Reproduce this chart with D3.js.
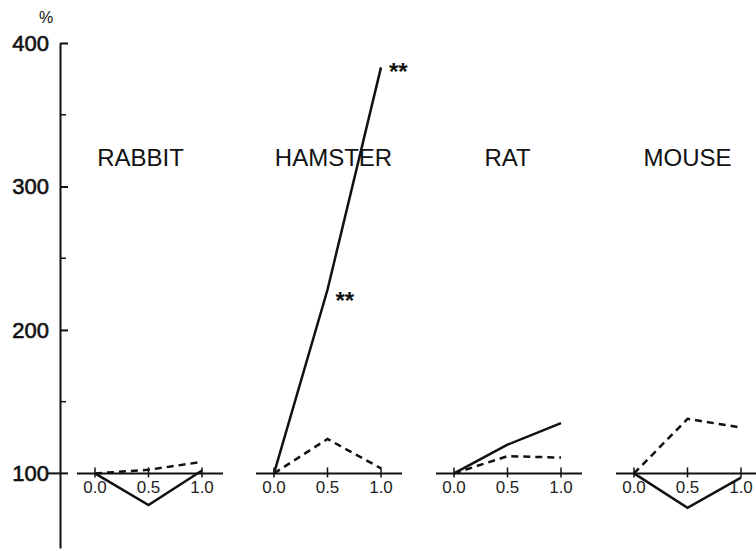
<!DOCTYPE html>
<html>
<head>
<meta charset="utf-8">
<script src="https://cdn.jsdelivr.net/npm/d3@7"></script>
<style>
  body { margin: 0; background: #fff; }
  svg { font-family: "Liberation Sans", Arial, sans-serif; }
</style>
</head>
<body>
<script>
// data
const species = ["RABBIT", "HAMSTER", "RAT", "MOUSE"];
const doses = [0.0, 0.5, 1.0];
const doseLabels = ["0.0", "0.5", "1.0"];
const solidValues = [
  [100, 78, 102],
  [100, 228, 383],
  [100, 120, 135],
  [100, 76, 97]
];
const dashedValues = [
  [100, 102.5, 108],
  [100, 124, 103.5],
  [100, 112, 111],
  [100, 138, 132]
];
// significance marks: [panel, dose index]
const starMarks = [[1, 1], [1, 2]];
const yLabels = [100, 200, 300, 400];
const yMinor = [150, 250, 350];

const width = 756, height = 551;
const svg = d3.select("body").append("svg")
  .attr("width", width).attr("height", height);

const y = d3.scaleLinear().domain([48, 400]).range([548, 43]);
const axisX = 60;

// y axis, ticks pointing right
const yAxis = svg.append("g")
  .attr("transform", `translate(${axisX},0)`)
  .call(d3.axisRight(y).tickValues(yLabels.slice(1)).tickSize(8).tickSizeOuter(0).tickFormat(""));
yAxis.selectAll("path").attr("stroke", "#111").attr("stroke-width", 2);
yAxis.selectAll("line").attr("stroke", "#111").attr("stroke-width", 2);

svg.append("g").selectAll("line").data(yMinor).join("line")
  .attr("x1", axisX).attr("x2", axisX + 6)
  .attr("y1", d => y(d)).attr("y2", d => y(d))
  .attr("stroke", "#111").attr("stroke-width", 1.5);

// tick at 100 crosses the axis
svg.append("line")
  .attr("x1", axisX - 12).attr("x2", axisX + 8)
  .attr("y1", y(100)).attr("y2", y(100))
  .attr("stroke", "#111").attr("stroke-width", 2);

svg.append("g").selectAll("text").data(yLabels).join("text")
  .attr("x", 49).attr("y", d => y(d)).attr("dy", "0.36em")
  .attr("text-anchor", "end")
  .attr("font-size", 22).attr("fill", "#111")
  .attr("stroke", "#111").attr("stroke-width", 0.6)
  .text(d => d);

svg.append("text").attr("x", 46).attr("y", 23)
  .attr("text-anchor", "middle").attr("font-size", 16).attr("fill", "#111")
  .text("%");

// panels
const panelStart = [95, 274, 454, 634];
const panelW = 107;

species.forEach((name, i) => {
  const x = d3.scaleLinear().domain([0, 1]).range([panelStart[i], panelStart[i] + panelW]);
  const g = svg.append("g");

  // baseline at 100 %
  g.append("line")
    .attr("x1", x(0) - 18).attr("x2", x(1) + 21)
    .attr("y1", y(100)).attr("y2", y(100))
    .attr("stroke", "#111").attr("stroke-width", 2);

  g.selectAll(".tk").data(doses).join("line")
    .attr("x1", d => x(d)).attr("x2", d => x(d))
    .attr("y1", y(100) - 6).attr("y2", y(100) + 4)
    .attr("stroke", "#111").attr("stroke-width", 1.5);

  g.selectAll(".tl").data(doses).join("text")
    .attr("x", d => x(d)).attr("y", y(100) + 20)
    .attr("text-anchor", "middle").attr("font-size", 17)
    .attr("fill", "#222")
    .text((d, j) => doseLabels[j]);

  g.append("text")
    .attr("x", i === 0 ? x(0.5) - 8 : x(0.5) + (i === 1 ? 6 : 0))
    .attr("y", 166)
    .attr("text-anchor", "middle").attr("font-size", 24)
    .attr("fill", "#111")
    .text(name);

  const line = d3.line().x((d, j) => x(doses[j])).y(d => y(d));

  g.append("path").datum(dashedValues[i])
    .attr("d", line).attr("fill", "none")
    .attr("stroke", "#111").attr("stroke-width", 2.5)
    .attr("stroke-dasharray", "7,5");

  g.append("path").datum(solidValues[i])
    .attr("d", line).attr("fill", "none")
    .attr("stroke", "#111").attr("stroke-width", 2.5);

  starMarks.filter(s => s[0] === i).forEach(s => {
    g.append("text")
      .attr("x", x(doses[s[1]]) + 8)
      .attr("y", y(solidValues[i][s[1]]) + (s[1] === 2 ? 13 : 19))
      .attr("font-size", 24).attr("font-weight", "bold").attr("fill", "#111")
      .text("**");
  });
});
</script>
</body>
</html>
